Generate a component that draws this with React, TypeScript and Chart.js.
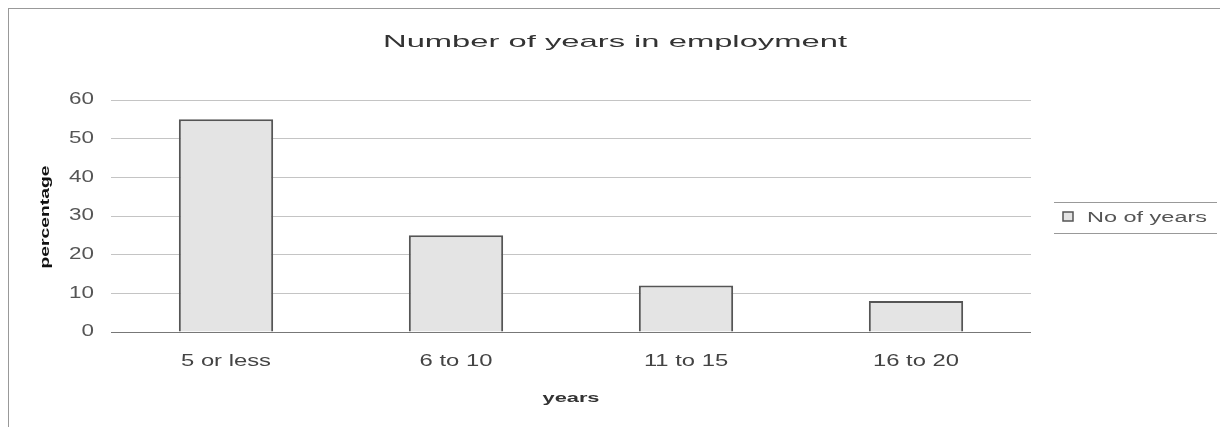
import React, { useEffect, useRef } from "react";
import { Chart, registerables } from "chart.js";

Chart.register(...registerables);

const chartTitle = "Number of years in employment";
const categories = ["5 or less", "6 to 10", "11 to 15", "16 to 20"];
const seriesLabel = "No of years";
const seriesValues = [55, 25, 12, 8];
const yTickValues = [0, 10, 20, 30, 40, 50, 60];
const xAxisTitle = "years";
const yAxisTitle = "percentage";

const FONT = '"Liberation Sans", Arial, sans-serif';

function drawText(
  ctx: CanvasRenderingContext2D,
  text: string,
  x: number,
  y: number,
  font: string,
  color: string,
  align: CanvasTextAlign,
  opts: { sx?: number; width?: number; rotate?: boolean } = {}
) {
  ctx.save();
  ctx.font = font;
  let sx = opts.sx ?? 1;
  if (opts.width) {
    const w = ctx.measureText(text).width;
    sx = opts.width / w;
  }
  ctx.translate(x, y);
  if (opts.rotate) ctx.rotate(-Math.PI / 2);
  ctx.scale(sx, 1);
  ctx.fillStyle = color;
  ctx.textAlign = align;
  ctx.textBaseline = "middle";
  ctx.fillText(text, 0, 0);
  ctx.restore();
}

const textPlugin = {
  id: "textPlugin",
  afterDraw(chart: any) {
    const ctx: CanvasRenderingContext2D = chart.ctx;
    const xs = chart.scales.x;
    const ys = chart.scales.y;
    const area = chart.chartArea;

    // title
    drawText(ctx, chartTitle, 606, 33, `17px ${FONT}`, "#333", "center", { width: 464 });

    // y ticks
    yTickValues.forEach((v) => {
      drawText(ctx, String(v), 85, ys.getPixelForValue(v), `16px ${FONT}`, "#555", "right", { sx: 1.4 });
    });

    // x ticks
    ctx.save();
    ctx.font = `16px ${FONT}`;
    const refW = ctx.measureText("16 to 20").width;
    ctx.restore();
    const xsx = 86 / refW;
    categories.forEach((c, i) => {
      drawText(ctx, c, xs.getPixelForValue(i), 353, `16px ${FONT}`, "#444", "center", { sx: xsx });
    });

    // axis titles
    drawText(ctx, xAxisTitle, (area.left + area.right) / 2, 389, `bold 13px ${FONT}`, "#333", "center", { width: 57 });
    drawText(ctx, yAxisTitle, 36, 208, `bold 13px ${FONT}`, "#111", "center", { width: 103, rotate: true });

    // legend
    ctx.save();
    ctx.strokeStyle = "#999";
    ctx.lineWidth = 1;
    ctx.beginPath();
    ctx.moveTo(1045, 193.5);
    ctx.lineTo(1208, 193.5);
    ctx.moveTo(1045, 224.5);
    ctx.lineTo(1208, 224.5);
    ctx.stroke();
    const ds = chart.data.datasets[0];
    ctx.fillStyle = ds.backgroundColor;
    ctx.fillRect(1054, 203, 10, 9);
    ctx.strokeStyle = ds.borderColor;
    ctx.lineWidth = 1.5;
    ctx.strokeRect(1054, 203, 10, 9);
    ctx.restore();
    drawText(ctx, ds.label, 1078, 209, `14px ${FONT}`, "#555", "left", { width: 120 });
  },
};

export default function App() {
  const ref = useRef<HTMLCanvasElement | null>(null);

  useEffect(() => {
    if (!ref.current) return;
    const chart = new Chart(ref.current, {
      type: "bar",
      data: {
        labels: categories,
        datasets: [
          {
            label: seriesLabel,
            data: seriesValues,
            backgroundColor: "#e4e4e4",
            borderColor: "#555",
            borderWidth: 2,
            barPercentage: 0.41,
            categoryPercentage: 1,
          },
        ],
      },
      options: {
        responsive: false,
        animation: false,
        devicePixelRatio: 1,
        layout: { padding: { left: 0, right: 191, top: 91, bottom: 0 } },
        plugins: {
          legend: { display: false },
          title: { display: false },
          tooltip: { enabled: false },
        },
        scales: {
          x: {
            type: "category",
            grid: { display: false },
            border: { display: false },
            ticks: { display: false },
            afterFit: (s: any) => {
              s.height = 95;
            },
          },
          y: {
            min: 0,
            max: 60,
            ticks: { display: false, stepSize: 10 },
            border: { display: false },
            grid: {
              color: (c: any) => (c.tick && c.tick.value === 0 ? "#777" : "#c4c4c4"),
              lineWidth: 1,
              drawTicks: false,
            },
            afterFit: (s: any) => {
              s.width = 102;
            },
          },
        },
      },
      plugins: [textPlugin],
    });
    return () => chart.destroy();
  }, []);

  return (
    <div
      style={{
        width: 1215,
        height: 419,
        boxSizing: "border-box",
        borderLeft: "1px solid #999",
        borderTop: "1px solid #999",
        borderRight: "1px solid #999",
        background: "#fff",
        overflow: "hidden",
      }}
    >
      <canvas ref={ref} width={1213} height={418} style={{ display: "block" }} />
    </div>
  );
}
